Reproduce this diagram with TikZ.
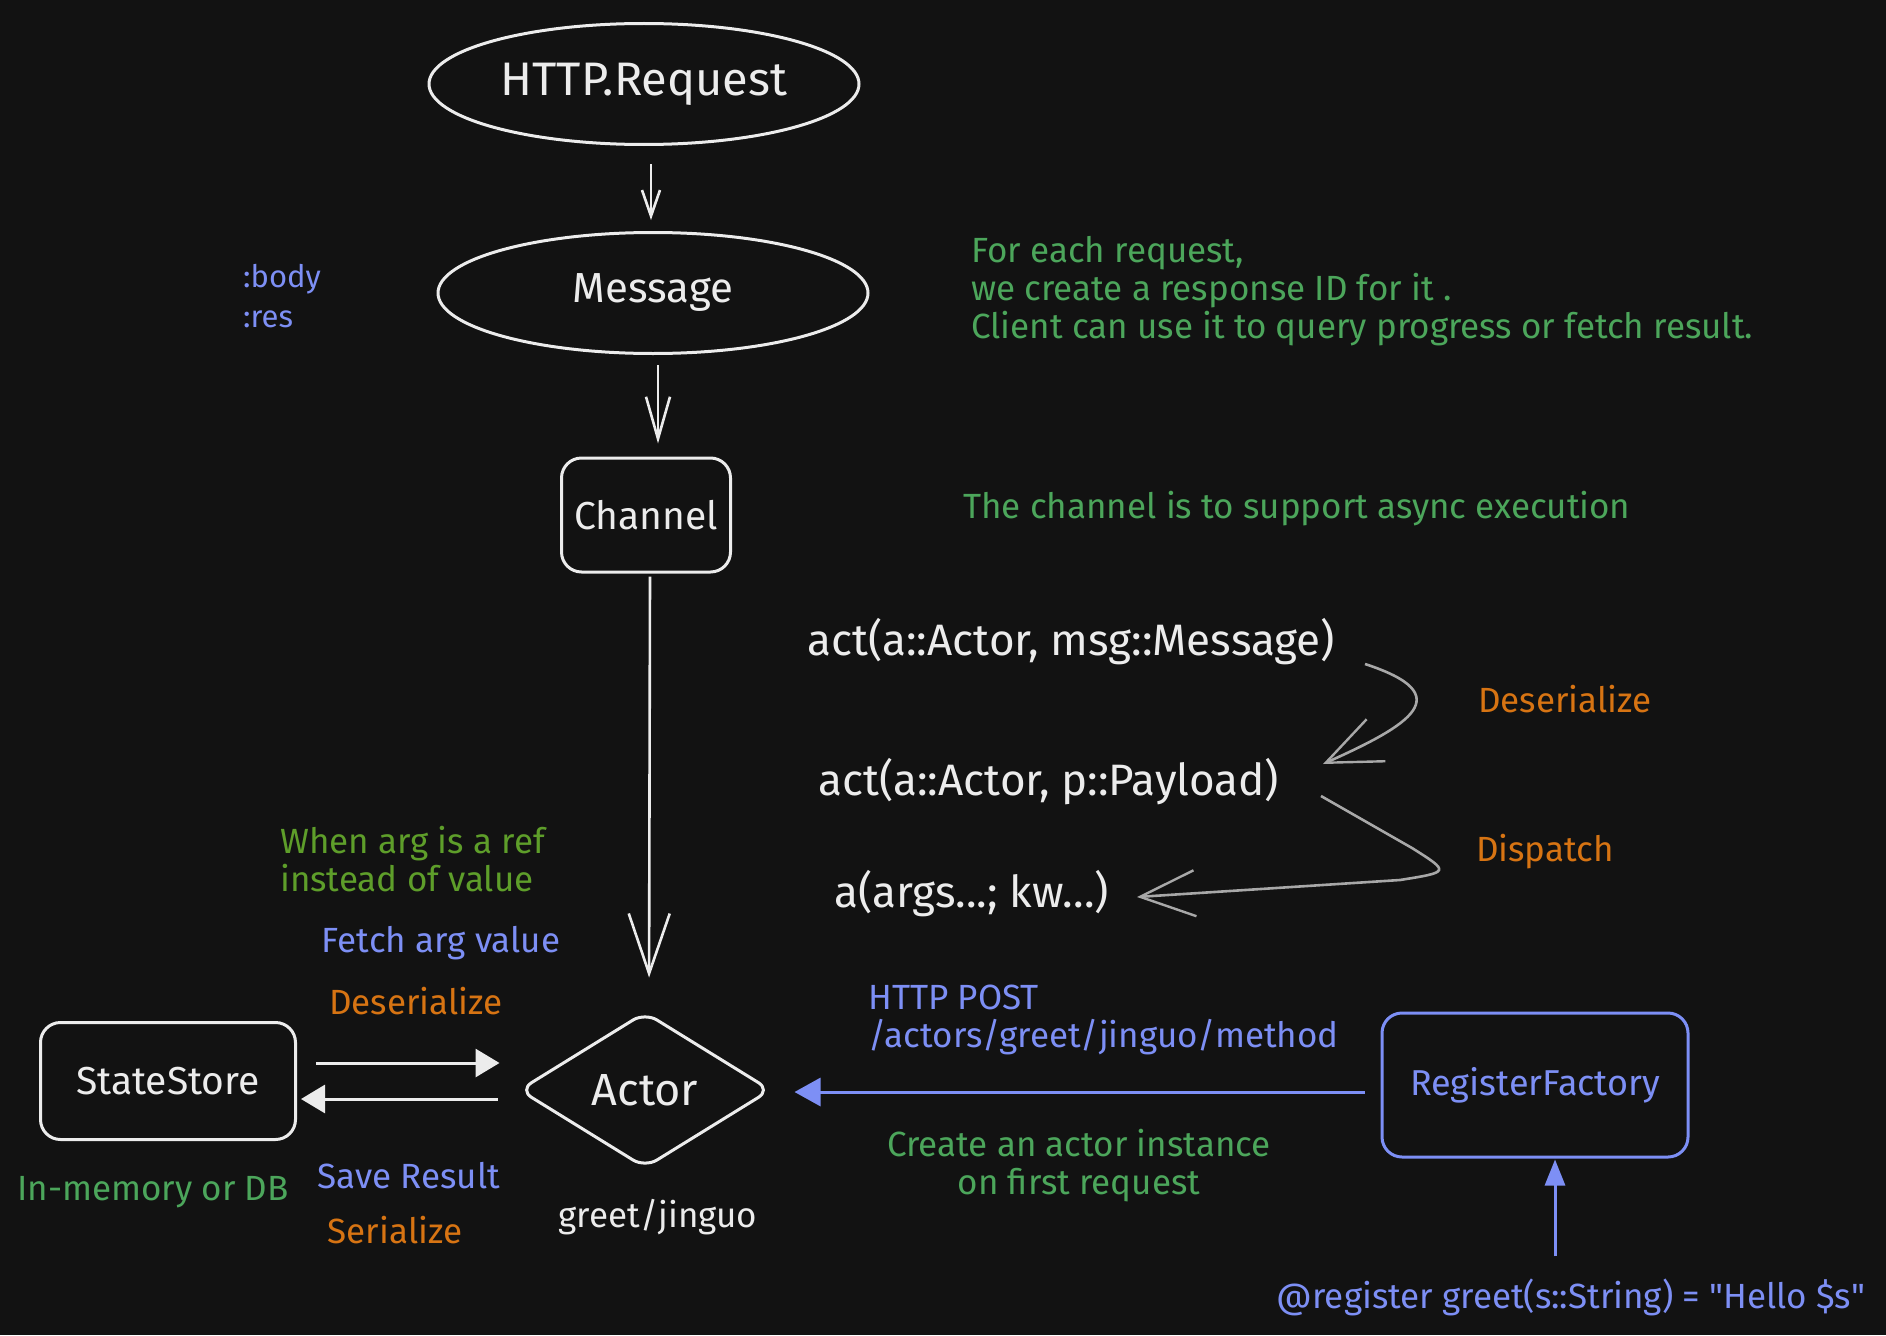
\documentclass[tikz,border=0pt]{standalone}
\usepackage{fontspec}
\setmainfont{Fira Sans}
\usetikzlibrary{
  shapes.geometric,
  arrows.meta,
  calc}

\definecolor{bg}{HTML}{121212}
\definecolor{fg}{HTML}{ECECEC}
\definecolor{notegreen}{HTML}{4CA65B}
\definecolor{olive}{HTML}{5E9E2A}
\definecolor{actblue}{HTML}{7D8FF5}
\definecolor{orange}{HTML}{D77413}
\definecolor{arrowgray}{HTML}{A8A8A8}

\tikzset{
  sketch/.style={draw=fg, line width=3pt, text=fg, inner sep=0pt},
  roundbox/.style={sketch, rounded corners=20pt},
  note/.style={inner sep=0pt, font=\fontsize{35}{38}\selectfont},
  whitearrow/.style={draw=fg, line width=2.6pt},
  grayarrow/.style={draw=arrowgray, line width=2.6pt,
    -{Straight Barb[length=55pt,width=46pt,line width=2.4pt]}},
  filledarrow/.style={draw=fg, line width=3pt,
    -{Triangle[length=24pt,width=28pt]}}
}

\begin{document}
\begin{tikzpicture}[x=1pt, y=-1pt]
  \useasboundingbox[fill=bg] (0,0) rectangle (1886,1335);

  % main flow
  \node[sketch, ellipse, minimum width=430pt, minimum height=121pt,
    font=\fontsize{47}{50}\selectfont] (request) at (644,84) {HTTP.Request};
  \node[sketch, ellipse, minimum width=430pt, minimum height=121pt,
    font=\fontsize{42}{46}\selectfont] (message) at (653,293) {Message};
  \node[roundbox, minimum width=169pt, minimum height=114pt,
    font=\fontsize{39}{42}\selectfont] (channel) at (646,515) {Channel};
  \node[sketch, diamond, rounded corners=14pt, minimum width=252pt,
    minimum height=156pt, font=\fontsize{45}{48}\selectfont] (actor) at (645,1090) {Actor};
  \node[roundbox, minimum width=255pt, minimum height=117pt,
    font=\fontsize{39}{42}\selectfont] (store) at (168,1081) {StateStore};
  \node[roundbox, draw=actblue, text=actblue, minimum width=306pt,
    minimum height=144pt, font=\fontsize{36}{40}\selectfont] (factory) at (1535,1085) {RegisterFactory};

  \draw[whitearrow, -{Straight Barb[length=26pt,width=18pt]}, shorten <=18pt, shorten >=11pt]
    ([xshift=7pt]request.south) -- ([xshift=-2pt]message.north);
  \draw[whitearrow, -{Straight Barb[length=42pt,width=24pt]}, shorten <=10pt, shorten >=13pt]
    ([xshift=5pt]message.south) -- ([xshift=12pt]channel.north);
  \draw[whitearrow, -{Straight Barb[length=60pt,width=41pt]}, shorten <=3pt, shorten >=33pt]
    ([xshift=4pt]channel.south) -- ([xshift=4pt]actor.north);

  % state store
  \draw[filledarrow] ($(store.east)+(19,-18)$) -- ($(actor.west)+(-18,-27)$);
  \draw[filledarrow] ($(actor.west)+(-20,9)$) -- ($(store.east)+(4,18)$);

  % factory
  \node[note, text=actblue] (register) at (1571,1297) {@register greet(s::String) = \textquotedbl Hello \$s\textquotedbl};
  \draw[draw=actblue, line width=3pt, -{Triangle[length=26pt,width=20pt]}]
    ($(register.north)+(-16,-22)$) -- ($(factory.south)+(20,1)$);
  \draw[draw=actblue, line width=3pt, -{Triangle[length=26pt,width=28pt]}]
    ($(factory.west)+(-16,7)$) -- ($(actor.east)+(22,2)$);

  % signatures
  \node[note, anchor=west, text=fg, font=\fontsize{44}{48}\selectfont] (actmsg) at (807,642) {act(a::Actor, msg::Message)};
  \node[note, anchor=west, text=fg, font=\fontsize{44}{48}\selectfont] (actpay) at (818,782) {act(a::Actor, p::Payload)};
  \node[note, anchor=west, text=fg, font=\fontsize{44}{48}\selectfont] (call) at (834,894) {a(args...; kw...)};
  \coordinate (deserfrom) at (1365,664);
  \coordinate (deserto) at (1323,764);
  \coordinate (dispfrom) at (1321,796);
  \coordinate (dispto) at (1137,897);
  \draw[grayarrow] (deserfrom) .. controls (1460,695) and (1410,725) .. (deserto);
  \draw[grayarrow] (dispfrom) -- (1412,848) .. controls (1450,872) .. (1400,880) -- (dispto);
  \node[note, text=orange] (deser) at (1565,699) {Deserialize};
  \node[note, text=orange] (dispatch) at (1545,852) {Dispatch};

  % notes
  \node[note, anchor=west, text=actblue, align=left, font=\fontsize{31}{40}\selectfont] (fields) at (243,296) {:body\\:res};
  \node[note, anchor=west, text=notegreen, align=left] (respid) at (971,291)
    {For each request,\\we create a response ID for it .\\Client can use it to query progress or fetch result.};
  \node[note, anchor=west, text=notegreen] (async) at (963,509) {The channel is to support async execution};
  \node[note, anchor=west, text=olive, align=left] (whenref) at (280,859) {When arg is a ref\\instead of value};
  \node[note, text=actblue] (fetch) at (441,943) {Fetch arg value};
  \node[note, text=orange] (deserstore) at (416,1001) {Deserialize};
  \node[note, text=actblue] (save) at (409,1176) {Save Result};
  \node[note, text=orange] (serial) at (395,1230) {Serialize};
  \node[note, text=notegreen] (memory) at (153,1192) {In-memory or DB};
  \node[note, text=fg] (actorid) at (658,1217) {greet/jinguo};
  \node[note, anchor=west, text=actblue, align=left] (post) at (868,1020)
    {HTTP POST\\/actors/greet/jinguo/method};
  \node[note, text=notegreen, align=center] (create) at (1079,1166)
    {Create an actor instance\\on first request};
\end{tikzpicture}
\end{document}
